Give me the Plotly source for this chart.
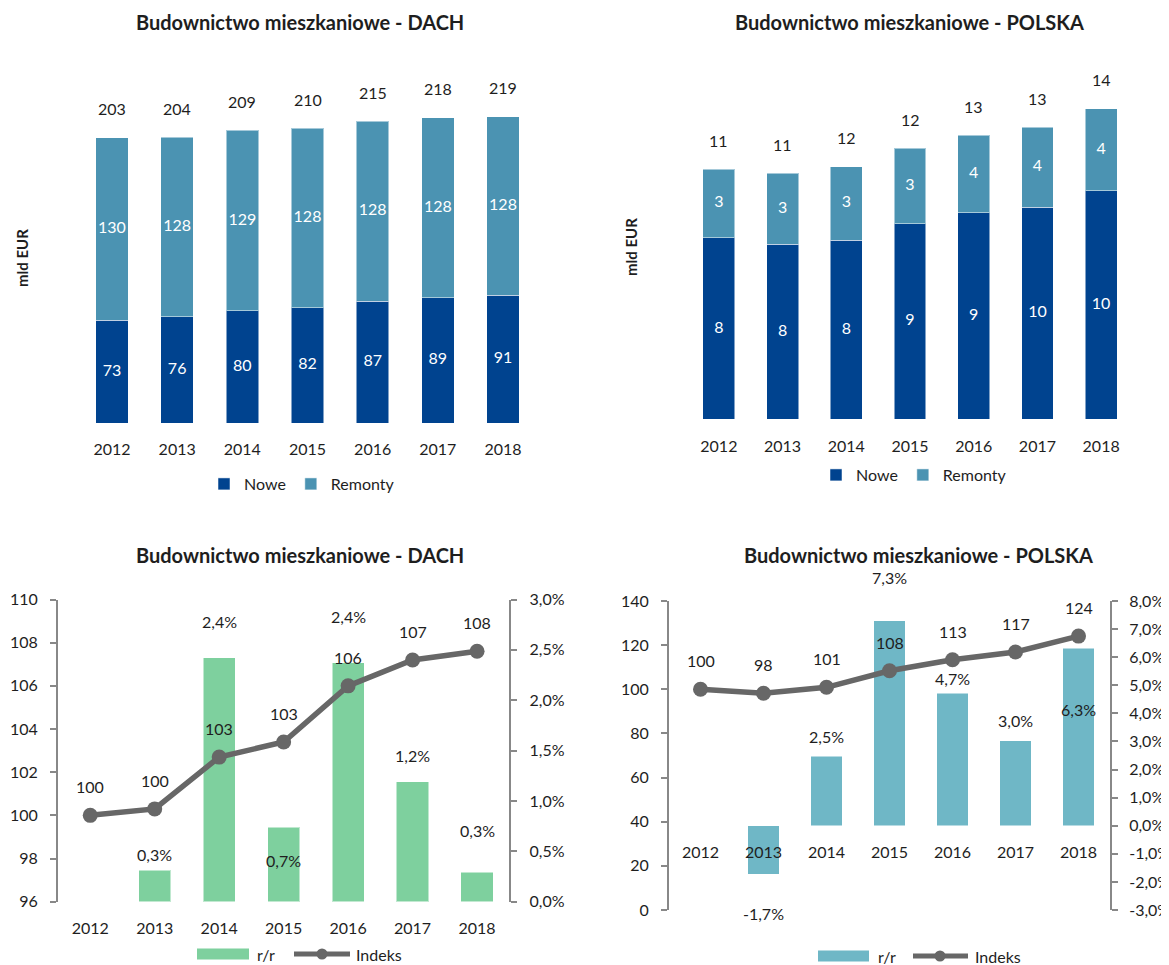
import plotly.graph_objects as go

# ---------------- data ----------------
years = ["2012", "2013", "2014", "2015", "2016", "2017", "2018"]

dach_nowe = [73.2, 75.8, 80.0, 82.2, 87.0, 89.4, 91.0]
dach_remonty = [130.1, 128.1, 128.8, 128.1, 128.3, 128.4, 127.6]

pl_nowe = [8.3, 8.0, 8.2, 8.95, 9.45, 9.7, 10.45]
pl_remonty = [3.15, 3.25, 3.35, 3.45, 3.55, 3.65, 3.75]

dach_index = [100.0, 100.3, 102.7, 103.4, 106.0, 107.2, 107.6]
dach_rr = [None, 0.0031, 0.0242, 0.0074, 0.0237, 0.0119, 0.0029]

pl_index = [100.0, 98.2, 100.9, 108.4, 113.4, 116.9, 124.1]
pl_rr = [None, -0.0172, 0.0248, 0.0730, 0.0472, 0.0303, 0.0631]

# axis tick values
dach_index_ticks = [96, 98, 100, 102, 104, 106, 108, 110]
dach_rr_ticks = [0.0, 0.005, 0.01, 0.015, 0.02, 0.025, 0.03]
pl_index_ticks = [0, 20, 40, 60, 80, 100, 120, 140]
pl_rr_ticks = [-0.03, -0.02, -0.01, 0.0, 0.01, 0.02, 0.03, 0.04, 0.05, 0.06, 0.07, 0.08]

# label offsets (px) for the r/r labels, as placed in the original
dach_rr_shift = [0, 16, 36, -33, 46, 26, 42]
pl_rr_shift = [0, -39, 20, 43, 15, 20, -61]

# ---------------- styling ----------------
OFF = 8                      # page body margin of the browser
W, H = 1169 - OFF, 965 - OFF
FONT = "Lato"
TXT = "#1e1e1e"
C_NOWE = "#00438f"
C_REM = "#4b93b2"
C_GREEN = "#7ed09e"
C_TEAL = "#6fb7c6"
C_LINE = "#676767"
C_AXIS = "#888888"
FS = 16


def px(x):
    return (x - OFF) / W


def py(y):
    return 1 - (y - OFF) / H


def pct(v):
    return f"{v * 100:.1f}".replace(".", ",") + "%"


fig = go.Figure()
annotations = []
idx = list(range(len(years)))
bar_line = dict(color="rgba(255,255,255,0.5)", width=1)

# ---------------- top-left: DACH stacked ----------------
fig.add_bar(x=years, y=dach_nowe, name="Nowe", marker=dict(color=C_NOWE, line=bar_line),
            xaxis="x", yaxis="y", legend="legend")
fig.add_bar(x=years, y=dach_remonty, name="Remonty", marker=dict(color=C_REM, line=bar_line),
            xaxis="x", yaxis="y", legend="legend")
fig.add_scatter(x=years, y=[v / 2 for v in dach_nowe], mode="text",
                text=[f"{v:.0f}" for v in dach_nowe], textposition="middle center",
                textfont=dict(family=FONT, size=FS, color="white"), showlegend=False, hoverinfo="skip",
                xaxis="x", yaxis="y")
fig.add_scatter(x=years, y=[n + r / 2 for n, r in zip(dach_nowe, dach_remonty)], mode="text",
                text=[f"{v:.0f}" for v in dach_remonty], textposition="middle center",
                textfont=dict(family=FONT, size=FS, color="white"), showlegend=False, hoverinfo="skip",
                xaxis="x", yaxis="y")
for i, n, r in zip(idx, dach_nowe, dach_remonty):
    annotations.append(dict(x=i, y=n + r, xref="x", yref="y", text=f"{n + r:.0f}", showarrow=False,
                            yshift=29, font=dict(family=FONT, size=FS, color=TXT)))

# ---------------- top-right: POLSKA stacked ----------------
fig.add_bar(x=years, y=pl_nowe, name="Nowe", marker=dict(color=C_NOWE, line=bar_line),
            xaxis="x2", yaxis="y2", legend="legend2")
fig.add_bar(x=years, y=pl_remonty, name="Remonty", marker=dict(color=C_REM, line=bar_line),
            xaxis="x2", yaxis="y2", legend="legend2")
fig.add_scatter(x=years, y=[v / 2 for v in pl_nowe], mode="text",
                text=[f"{v:.0f}" for v in pl_nowe], textposition="middle center",
                textfont=dict(family=FONT, size=FS, color="white"), showlegend=False, hoverinfo="skip",
                xaxis="x2", yaxis="y2")
fig.add_scatter(x=years, y=[n + r / 2 for n, r in zip(pl_nowe, pl_remonty)], mode="text",
                text=[f"{v:.0f}" for v in pl_remonty], textposition="middle center",
                textfont=dict(family=FONT, size=FS, color="white"), showlegend=False, hoverinfo="skip",
                xaxis="x2", yaxis="y2")
for i, n, r in zip(idx, pl_nowe, pl_remonty):
    annotations.append(dict(x=i, y=n + r, xref="x2", yref="y2", text=f"{n + r:.0f}", showarrow=False,
                            yshift=29, font=dict(family=FONT, size=FS, color=TXT)))

# ---------------- bottom-left: DACH r/r + index ----------------
fig.add_bar(x=years, y=dach_rr, name="r/r", marker=dict(color=C_GREEN, line=bar_line),
            xaxis="x3", yaxis="y3", showlegend=False)
fig.add_scatter(x=years, y=dach_index, name="Indeks", mode="lines+markers",
                line=dict(color=C_LINE, width=5.5), marker=dict(color=C_LINE, size=15),
                xaxis="x3", yaxis="y4", showlegend=False)
for i, v, s in zip(idx, dach_rr, dach_rr_shift):
    if v is None:
        continue
    annotations.append(dict(x=i, y=v, xref="x3", yref="y3", text=pct(v), showarrow=False, yshift=s,
                            font=dict(family=FONT, size=FS, color=TXT)))
for i, v in zip(idx, dach_index):
    annotations.append(dict(x=i, y=v, xref="x3", yref="y4", text=f"{v:.0f}", showarrow=False, yshift=28.5,
                            font=dict(family=FONT, size=FS, color=TXT)))

# ---------------- bottom-right: POLSKA r/r + index ----------------
fig.add_bar(x=years, y=pl_rr, name="r/r", marker=dict(color=C_TEAL, line=bar_line),
            xaxis="x4", yaxis="y5", showlegend=False)
fig.add_scatter(x=years, y=pl_index, name="Indeks", mode="lines+markers",
                line=dict(color=C_LINE, width=5.5), marker=dict(color=C_LINE, size=15),
                xaxis="x4", yaxis="y6", showlegend=False)
for i, v, s in zip(idx, pl_rr, pl_rr_shift):
    if v is None:
        continue
    annotations.append(dict(x=i, y=v, xref="x4", yref="y5", text=pct(v), showarrow=False, yshift=s,
                            font=dict(family=FONT, size=FS, color=TXT)))
for i, v in zip(idx, pl_index):
    annotations.append(dict(x=i, y=v, xref="x4", yref="y6", text=f"{v:.0f}", showarrow=False, yshift=28.5,
                            font=dict(family=FONT, size=FS, color=TXT)))

# ---------------- titles ----------------
TITLE = "Budownictwo mieszkaniowe - "
for cx, cy, t in [(300, 22, "DACH"), (909, 22, "POLSKA"), (300, 555, "DACH"), (918, 555, "POLSKA")]:
    annotations.append(dict(x=px(cx), y=py(cy), xref="paper", yref="paper", text=f"<b>{TITLE}{t}</b>",
                            showarrow=False, xanchor="center", yanchor="middle",
                            font=dict(family=FONT, size=20, color=TXT)))
for cx, cy in [(22, 258), (631, 247)]:
    annotations.append(dict(x=px(cx), y=py(cy), xref="paper", yref="paper", text="<b>mld EUR</b>",
                            showarrow=False, textangle=-90, xanchor="center", yanchor="middle",
                            font=dict(family=FONT, size=15, color=TXT)))

# ---------------- bottom legends (drawn) ----------------
shapes = []
for (rx0, rx1, col, tx1, lx0, lx1, mx, tx2, cyy) in [
    (197, 249, C_GREEN, 255, 294, 350, 322, 354, 954),
    (818, 869, C_TEAL, 876, 913, 968, 940, 973, 956),
]:
    shapes.append(dict(type="rect", xref="paper", yref="paper", x0=px(rx0), x1=px(rx1),
                       y0=py(cyy + 5.5), y1=py(cyy - 5.5), fillcolor=col, line=dict(width=0)))
    shapes.append(dict(type="line", xref="paper", yref="paper", x0=px(lx0), x1=px(lx1), y0=py(cyy), y1=py(cyy),
                       line=dict(color=C_LINE, width=5)))
    shapes.append(dict(type="circle", xref="paper", yref="paper", x0=px(mx - 5.5), x1=px(mx + 5.5),
                       y0=py(cyy + 5.5), y1=py(cyy - 5.5), fillcolor=C_LINE, line=dict(width=0)))
    annotations.append(dict(x=px(tx1), y=py(cyy), xref="paper", yref="paper", text="r/r", showarrow=False,
                            xanchor="left", yanchor="middle", font=dict(family=FONT, size=FS, color=TXT)))
    annotations.append(dict(x=px(tx2), y=py(cyy), xref="paper", yref="paper", text="Indeks", showarrow=False,
                            xanchor="left", yanchor="middle", font=dict(family=FONT, size=FS, color=TXT)))

# ---------------- axes ----------------
tick_font = dict(family=FONT, size=FS, color=TXT)
xcommon = dict(type="category", range=[-0.5, 6.5], showgrid=False, zeroline=False, showline=False,
               ticks="outside", ticklen=12, tickcolor="rgba(0,0,0,0)", tickfont=tick_font, fixedrange=True,
               automargin=False)
ycommon_hidden = dict(visible=False, showgrid=False, zeroline=False, fixedrange=True, automargin=False)
yaxis_vis = dict(showgrid=False, zeroline=False, showline=True, linecolor=C_AXIS, linewidth=2,
                 ticks="outside", ticklen=6, tickwidth=1.5, tickcolor=C_AXIS, tickfont=tick_font,
                 ticklabelstandoff=9, fixedrange=True, automargin=False, tickmode="array")
legend_common = dict(orientation="h", xanchor="left", yanchor="middle", traceorder="normal",
                     font=dict(family=FONT, size=FS, color=TXT), bgcolor="rgba(0,0,0,0)",
                     itemclick=False)

fig.update_layout(
    width=W, height=H, margin=dict(l=0, r=0, t=0, b=0, pad=0, autoexpand=False),
    paper_bgcolor="white", plot_bgcolor="rgba(0,0,0,0)",
    barmode="stack", bargap=0.5,
    separators=", ",
    font=dict(family=FONT, size=FS, color=TXT),
    xaxis=dict(xcommon, domain=[px(79.4), px(535.6)], anchor="y"),
    yaxis=dict(ycommon_hidden, domain=[py(423), py(60)], range=[0, (423 - 60) / 1.402], anchor="x"),
    xaxis2=dict(xcommon, domain=[px(687), px(1133)], anchor="y2"),
    yaxis2=dict(ycommon_hidden, domain=[py(419.3), py(60)], range=[0, (419.3 - 60) / 21.86], anchor="x2"),
    xaxis3=dict(xcommon, domain=[px(58), px(509.3)], anchor="y3"),
    yaxis3=dict(yaxis_vis, domain=[py(901.7), py(599.5)], range=[0, 0.03],
                tickvals=dach_rr_ticks, ticktext=[pct(v) for v in dach_rr_ticks],
                side="right", anchor="x3"),
    yaxis4=dict(yaxis_vis, range=[96, 110], tickvals=dach_index_ticks,
                ticktext=[str(v) for v in dach_index_ticks], side="left", overlaying="y3", anchor="x3"),
    xaxis4=dict(xcommon, domain=[px(669), px(1110)], anchor="free", position=py(825.7)),
    yaxis5=dict(yaxis_vis, domain=[py(910), py(601)], range=[-0.03, 0.08],
                tickvals=pl_rr_ticks, ticktext=[pct(v) for v in pl_rr_ticks],
                side="right", anchor="x4", ticklabelstandoff=8),
    yaxis6=dict(yaxis_vis, range=[0, 140], tickvals=pl_index_ticks,
                ticktext=[str(v) for v in pl_index_ticks], side="left", overlaying="y5", anchor="x4"),
    legend=dict(legend_common, x=px(204), y=py(484)),
    legend2=dict(legend_common, x=px(816), y=py(475)),
    annotations=annotations,
    shapes=shapes,
    showlegend=True,
)

fig.write_html("out.html")
